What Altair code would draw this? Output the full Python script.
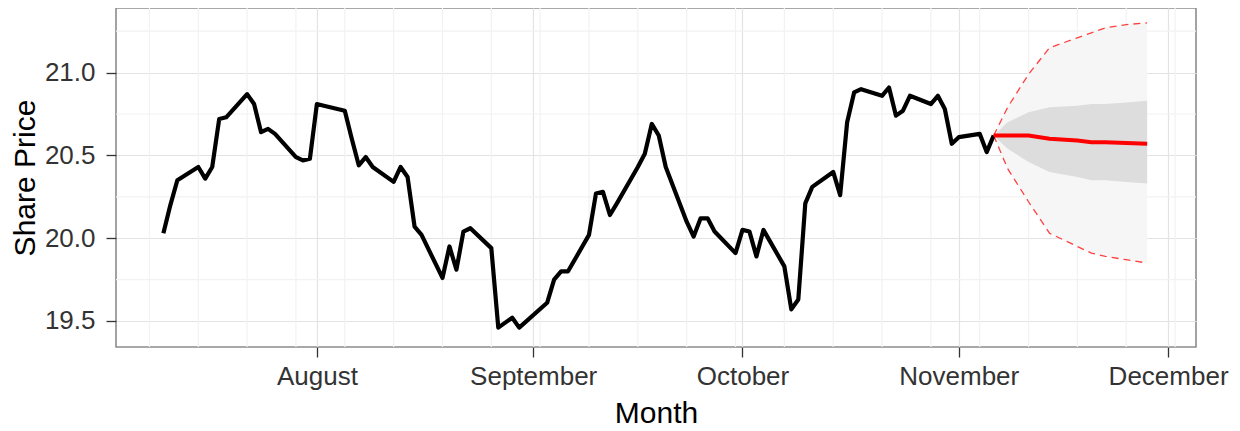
import altair as alt
import pandas as pd

# ---- observed share price (business days) ----
obs_dates = [
    "2013-07-10", "2013-07-11", "2013-07-12", "2013-07-15", "2013-07-16", "2013-07-17",
    "2013-07-18", "2013-07-19", "2013-07-22", "2013-07-23", "2013-07-24", "2013-07-25",
    "2013-07-26", "2013-07-29", "2013-07-30", "2013-07-31", "2013-08-01", "2013-08-02",
    "2013-08-05", "2013-08-06", "2013-08-07", "2013-08-08", "2013-08-09", "2013-08-12",
    "2013-08-13", "2013-08-14", "2013-08-15", "2013-08-16", "2013-08-19", "2013-08-20",
    "2013-08-21", "2013-08-22", "2013-08-23", "2013-08-26", "2013-08-27", "2013-08-28",
    "2013-08-29", "2013-08-30", "2013-09-03", "2013-09-04", "2013-09-05", "2013-09-06",
    "2013-09-09", "2013-09-10", "2013-09-11", "2013-09-12", "2013-09-13", "2013-09-16",
    "2013-09-17", "2013-09-18", "2013-09-19", "2013-09-20", "2013-09-23", "2013-09-24",
    "2013-09-25", "2013-09-26", "2013-09-27", "2013-09-30", "2013-10-01", "2013-10-02",
    "2013-10-03", "2013-10-04", "2013-10-07", "2013-10-08", "2013-10-09", "2013-10-10",
    "2013-10-11", "2013-10-14", "2013-10-15", "2013-10-16", "2013-10-17", "2013-10-18",
    "2013-10-21", "2013-10-22", "2013-10-23", "2013-10-24", "2013-10-25", "2013-10-28",
    "2013-10-29", "2013-10-30", "2013-10-31", "2013-11-01", "2013-11-04", "2013-11-05",
    "2013-11-06",
]
obs_price = [
    20.03, 20.20, 20.35, 20.43, 20.36, 20.43,
    20.72, 20.73, 20.87, 20.81, 20.64, 20.66,
    20.63, 20.49, 20.47, 20.48, 20.81, 20.80,
    20.77, 20.60, 20.44, 20.49, 20.43, 20.34,
    20.43, 20.37, 20.07, 20.02, 19.76, 19.95,
    19.81, 20.04, 20.06, 19.94, 19.46, 19.49,
    19.52, 19.46, 19.61, 19.75, 19.80, 19.80,
    20.02, 20.27, 20.28, 20.14, 20.21, 20.43,
    20.51, 20.69, 20.62, 20.43, 20.10, 20.01,
    20.12, 20.12, 20.04, 19.91, 20.05, 20.04,
    19.89, 20.05, 19.83, 19.57, 19.63, 20.21,
    20.31, 20.40, 20.26, 20.70, 20.88, 20.90,
    20.86, 20.91, 20.74, 20.77, 20.86, 20.81,
    20.86, 20.78, 20.57, 20.61, 20.63, 20.52,
    20.62,
]

# ---- forecast ----
fc_dates = ["2013-11-06", "2013-11-08", "2013-11-11", "2013-11-14", "2013-11-18",
            "2013-11-20", "2013-11-22", "2013-11-25", "2013-11-28"]
fc_mean = [20.62, 20.62, 20.62, 20.60, 20.59, 20.58, 20.58, 20.575, 20.57]
fc_lo80 = [20.62, 20.54, 20.46, 20.40, 20.37, 20.35, 20.35, 20.34, 20.33]
fc_hi80 = [20.62, 20.70, 20.76, 20.79, 20.80, 20.81, 20.81, 20.82, 20.83]
fc_lo95 = [20.62, 20.42, 20.22, 20.03, 19.95, 19.91, 19.89, 19.87, 19.85]
fc_hi95 = [20.62, 20.79, 20.99, 21.15, 21.21, 21.24, 21.27, 21.29, 21.30]

# ---- axis breaks ----
month_breaks = ["2013-08-01", "2013-09-01", "2013-10-01", "2013-11-01", "2013-12-01"]
week_breaks = ["2013-07-08", "2013-07-15", "2013-07-22", "2013-07-29", "2013-08-05",
               "2013-08-12", "2013-08-19", "2013-08-26", "2013-09-02", "2013-09-09",
               "2013-09-16", "2013-09-23", "2013-09-30", "2013-10-07", "2013-10-14",
               "2013-10-21", "2013-10-28", "2013-11-04", "2013-11-11", "2013-11-18",
               "2013-11-25", "2013-12-02"]
y_breaks = [19.5, 20.0, 20.5, 21.0]
y_minor = [19.75, 20.25, 20.75, 21.25]

obs = pd.DataFrame({"date": obs_dates, "price": obs_price})
fc = pd.DataFrame({"date": fc_dates, "mean": fc_mean, "lo80": fc_lo80, "hi80": fc_hi80,
                   "lo95": fc_lo95, "hi95": fc_hi95})
wk = pd.DataFrame({"date": week_breaks})
ym = pd.DataFrame({"v": y_minor})

FONT = "Liberation Sans"

def dt(s):
    y, m, d = [int(p) for p in s.split("-")]
    return alt.DateTime(year=y, month=m, date=d, utc=True)

xscale = alt.Scale(type="utc", domain=[alt.DateTime(year=2013, month=7, date=3, hours=5, utc=True),
                                       alt.DateTime(year=2013, month=12, date=5, utc=True)])
yscale = alt.Scale(domain=[19.343, 21.39], nice=False, zero=False)

xaxis = alt.Axis(values=[dt(s) for s in month_breaks], format="%B", title="Month",
                 grid=True, gridColor="#e3e3e3", gridWidth=1.2,
                 domain=False, tickColor="#333333", tickSize=10, tickWidth=1.3,
                 labelFont=FONT, labelFontSize=26, labelColor="#333333", labelPadding=6,
                 titleFont=FONT, titleFontSize=30, titleFontWeight="normal", titleColor="#000000",
                 titlePadding=9, labelFlush=False)
yaxis = alt.Axis(values=y_breaks, format=".1f", title="Share Price",
                 grid=True, gridColor="#e3e3e3", gridWidth=1.2,
                 domain=False, tickColor="#333333", tickSize=10, tickWidth=1.3,
                 labelFont=FONT, labelFontSize=26, labelColor="#333333", labelPadding=11,
                 titleFont=FONT, titleFontSize=30, titleFontWeight="normal", titleColor="#000000",
                 titlePadding=4)

X = alt.X("date:T", scale=xscale, axis=xaxis)

minor_x = alt.Chart(wk).mark_rule(color="#f2f2f2", strokeWidth=1.2).encode(
    x=alt.X("date:T", scale=xscale, axis=xaxis))
minor_y = alt.Chart(ym).mark_rule(color="#f2f2f2", strokeWidth=1.2).encode(
    y=alt.Y("v:Q", scale=yscale, axis=yaxis))

band95 = alt.Chart(fc).mark_area(color="#f6f6f6", opacity=1).encode(
    x=X, y=alt.Y("lo95:Q", scale=yscale, axis=yaxis), y2="hi95:Q")
band80 = alt.Chart(fc).mark_area(color="#dddddd", opacity=1).encode(
    x=X, y=alt.Y("lo80:Q", scale=yscale, axis=yaxis), y2="hi80:Q")
hi_line = alt.Chart(fc).mark_line(color="#ff4040", strokeWidth=1.3, strokeDash=[7, 5]).encode(
    x=X, y=alt.Y("hi95:Q", scale=yscale, axis=yaxis))
lo_line = alt.Chart(fc).mark_line(color="#ff4040", strokeWidth=1.3, strokeDash=[7, 5]).encode(
    x=X, y=alt.Y("lo95:Q", scale=yscale, axis=yaxis))
price_line = alt.Chart(obs).mark_line(color="#000000", strokeWidth=4.2, strokeJoin="round").encode(
    x=X, y=alt.Y("price:Q", scale=yscale, axis=yaxis))
mean_line = alt.Chart(fc).mark_line(color="#ff0000", strokeWidth=4.0).encode(
    x=X, y=alt.Y("mean:Q", scale=yscale, axis=yaxis))

chart = alt.layer(minor_x, minor_y, band95, band80, hi_line, lo_line, price_line, mean_line).properties(
    width=1080, height=339,
    autosize=alt.AutoSizeParams(type="none"),
    padding={"left": 108, "top": 0, "right": 36, "bottom": 84},
    background="#ffffff",
).configure_view(stroke="#8c8c8c", strokeWidth=1.6)

chart.save("out.html", embed_options={"renderer": "svg", "actions": False})
